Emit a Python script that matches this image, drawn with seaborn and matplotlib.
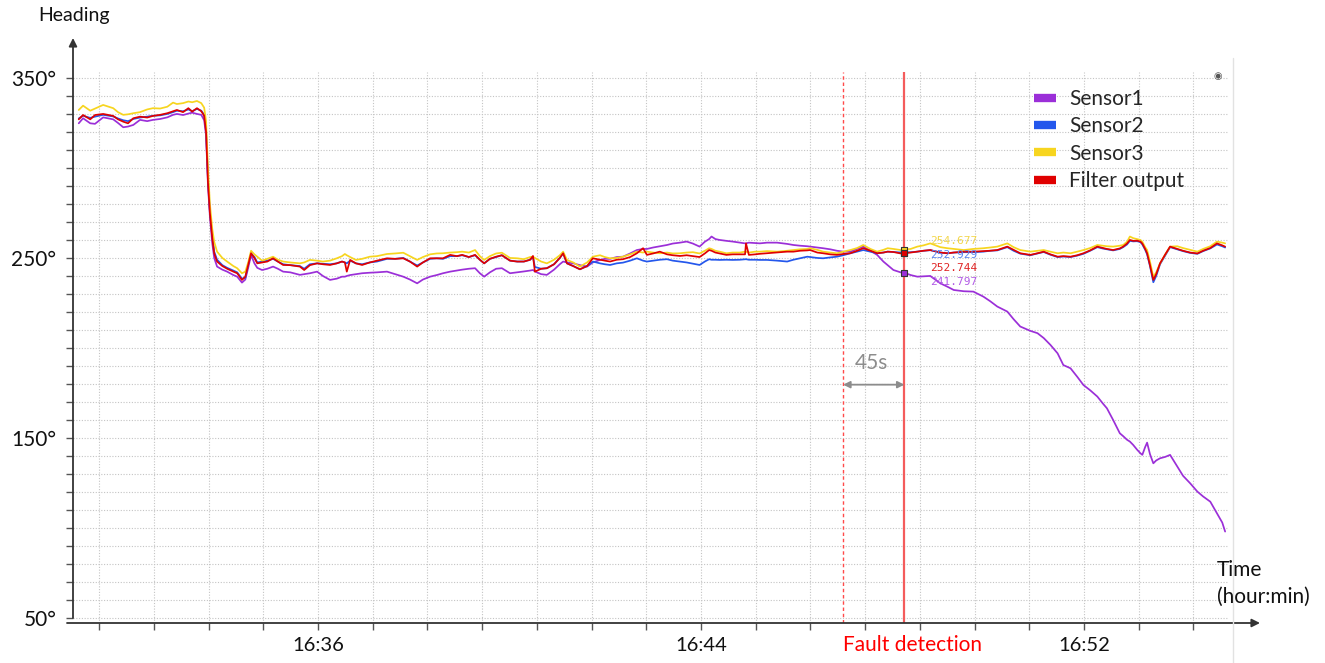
import numpy as np
import pandas as pd
import matplotlib
matplotlib.use("Agg")
import matplotlib.pyplot as plt
import matplotlib.transforms as mtransforms
from matplotlib.lines import Line2D
import seaborn as sns

# ---------------- data (minutes after 16:00, heading in degrees) ----------------
time_min = [
    31.00, 31.09, 31.24, 31.34, 31.51, 31.72, 31.82, 31.93, 32.03, 32.14,
    32.28, 32.43, 32.55, 32.70, 32.85, 32.97, 33.05, 33.18, 33.29, 33.37,
    33.47, 33.56, 33.62, 33.66, 33.70, 33.74, 33.79, 33.83, 33.89, 34.00,
    34.10, 34.23, 34.31, 34.41, 34.48, 34.54, 34.60, 34.67, 34.73, 34.83,
    34.94, 35.06, 35.16, 35.27, 35.42, 35.62, 35.71, 35.83, 35.98, 36.10,
    36.25, 36.39, 36.50, 36.56, 36.60, 36.67, 36.79, 36.92, 37.08, 37.23,
    37.44, 37.61, 37.78, 37.92, 38.07, 38.19, 38.34, 38.48, 38.61, 38.76,
    38.90, 39.01, 39.15, 39.28, 39.38, 39.47, 39.59, 39.72, 39.84, 40.01,
    40.16, 40.30, 40.43, 40.49, 40.53, 40.66, 40.78, 40.93, 41.05, 41.12,
    41.20, 41.33, 41.47, 41.62, 41.74, 41.89, 41.99, 42.10, 42.24, 42.37,
    42.52, 42.66, 42.79, 42.87, 43.00, 43.14, 43.29, 43.41, 43.56, 43.70,
    43.83, 43.97, 44.08, 44.17, 44.22, 44.30, 44.39, 44.53, 44.66, 44.81,
    44.92, 44.94, 45.00, 45.13, 45.23, 45.38, 45.59, 45.80, 45.93, 46.07,
    46.22, 46.28, 46.43, 46.55, 46.70, 46.84, 46.97, 47.12, 47.26, 47.39,
    47.54, 47.68, 47.81, 47.90, 48.02, 48.17, 48.25, 48.38, 48.52, 48.65,
    48.79, 49.00, 49.15, 49.28, 49.49, 49.69, 49.90, 50.04, 50.19, 50.40,
    50.53, 50.67, 50.88, 51.03, 51.16, 51.30, 51.45, 51.57, 51.72, 51.86,
    51.99, 52.13, 52.28, 52.40, 52.48, 52.61, 52.75, 52.82, 52.90, 52.96,
    53.03, 53.11, 53.18, 53.22, 53.28, 53.32, 53.38, 53.45, 53.51, 53.59,
    53.70, 53.80, 53.95, 54.07, 54.22, 54.37, 54.49, 54.64, 54.78, 54.89,
    54.95,
]

sensor1 = [
    324.8, 327.6, 324.8, 324.5, 328.1, 327.0, 325.0, 322.6, 323.0, 323.9,
    326.7, 326.0, 326.7, 327.2, 328.1, 329.5, 330.0, 329.4, 330.2, 330.7,
    330.0, 329.5, 326.5, 318.0, 290.0, 273.0, 258.0, 250.0, 245.2, 243.5,
    242.4, 240.5, 239.6, 236.3, 238.0, 244.5, 251.7, 247.0, 244.5, 243.3,
    244.0, 245.2, 244.0, 242.4, 242.0, 240.6, 241.0, 241.5, 242.4, 240.0,
    237.8, 238.5, 239.6, 239.6, 240.0, 240.5, 241.0, 241.5, 241.8, 242.0,
    242.4, 241.0, 239.6, 238.0, 235.9, 238.0, 239.6, 240.5, 241.5, 242.4,
    243.0, 243.5, 244.0, 244.3, 241.5, 239.6, 242.0, 244.0, 244.3, 241.5,
    242.0, 242.5, 243.0, 243.3, 242.5, 241.0, 240.6, 243.5, 246.5, 248.0,
    247.5, 247.0, 246.0, 245.2, 247.5, 248.9, 249.5, 249.5, 250.5, 250.7,
    252.5, 254.4, 255.0, 255.0, 255.8, 256.5, 257.2, 258.0, 258.5, 259.1,
    258.0, 256.3, 259.0, 260.5, 261.9, 260.5, 260.0, 259.5, 259.1, 258.5,
    258.1, 258.1, 258.5, 258.3, 258.1, 258.5, 258.5, 257.8, 257.2, 256.8,
    256.5, 256.3, 255.8, 255.4, 254.8, 254.0, 253.5, 253.5, 255.0, 256.3,
    254.0, 251.7, 248.0, 246.0, 243.3, 242.0, 241.8, 240.5, 239.6, 239.8,
    240.0, 235.9, 234.0, 232.2, 231.5, 231.3, 228.5, 226.0, 223.0, 220.2,
    216.0, 211.9, 209.5, 208.2, 205.5, 201.7, 197.0, 190.5, 188.7, 184.0,
    179.4, 176.5, 173.0, 169.0, 166.5, 160.0, 152.6, 151.0, 149.0, 148.0,
    146.1, 143.5, 141.5, 140.6, 145.0, 147.4, 141.0, 135.9, 137.5, 138.7,
    139.5, 140.6, 134.1, 129.0, 124.8, 120.2, 117.5, 114.6, 108.1, 103.0,
    98.0,
]

sensor2 = [
    327.5, 329.0, 327.8, 328.5, 329.5, 328.6, 327.5, 326.5, 326.0, 327.2,
    328.0, 328.5, 329.0, 329.2, 330.0, 331.0, 331.8, 331.5, 332.5, 331.5,
    332.8, 331.8, 329.5, 321.0, 294.0, 276.0, 262.0, 253.5, 249.0, 246.0,
    244.5, 243.0, 242.0, 238.5, 239.0, 246.5, 252.5, 250.5, 247.5, 248.0,
    248.5, 249.5, 248.0, 246.5, 246.0, 245.5, 244.0, 246.5, 247.0, 246.8,
    246.5, 247.0, 248.0, 247.5, 247.0, 248.5, 247.0, 246.5, 247.5, 248.0,
    249.5, 249.5, 250.0, 248.0, 245.8, 247.5, 249.5, 249.8, 249.5, 251.0,
    251.0, 251.5, 250.5, 251.5, 249.0, 247.0, 249.5, 250.5, 251.5, 248.5,
    248.0, 248.0, 249.0, 250.5, 245.0, 244.0, 244.3, 246.5, 250.0, 252.5,
    247.0, 245.5, 243.7, 245.5, 248.0, 247.0, 246.5, 246.1, 247.0, 247.4,
    248.5, 249.8, 248.5, 248.0, 248.5, 249.0, 249.3, 248.5, 248.0, 247.5,
    246.8, 246.1, 248.0, 249.3, 249.0, 249.0, 248.9, 249.0, 248.9, 249.0,
    249.3, 249.3, 249.0, 249.0, 248.9, 248.9, 248.5, 248.0, 249.0, 249.8,
    250.7, 250.5, 250.0, 249.8, 250.3, 250.7, 251.5, 252.6, 253.5, 254.4,
    253.5, 252.6, 253.0, 253.5, 253.3, 253.0, 252.9, 253.2, 253.5, 254.0,
    254.3, 253.0, 252.6, 253.0, 253.2, 253.2, 253.5, 254.0, 254.2, 256.0,
    254.0, 252.4, 251.5, 252.5, 253.3, 251.8, 250.5, 250.8, 250.5, 251.3,
    252.3, 254.0, 256.0, 255.2, 254.8, 254.2, 255.0, 256.0, 257.5, 259.5,
    259.2, 259.3, 258.8, 257.5, 254.5, 252.0, 245.5, 236.5, 240.0, 246.5,
    251.5, 256.0, 254.8, 253.8, 252.8, 252.3, 253.8, 255.3, 257.5, 256.5,
    255.8,
]

sensor3 = [
    332.2, 334.6, 331.8, 333.0, 335.0, 333.2, 331.0, 329.5, 329.8, 330.4,
    331.0, 332.5, 333.2, 333.0, 334.0, 336.3, 335.5, 336.0, 336.9, 336.5,
    337.2, 336.0, 333.5, 326.0, 300.0, 280.0, 266.0, 259.0, 253.5, 250.0,
    248.0, 245.5, 244.3, 241.5, 242.4, 247.5, 254.0, 252.0, 250.7, 248.5,
    249.5, 250.7, 249.0, 248.0, 247.5, 247.0, 247.5, 248.9, 248.5, 248.0,
    248.5, 249.8, 251.0, 252.2, 251.5, 250.5, 248.9, 249.5, 250.7, 251.0,
    252.2, 252.5, 252.9, 251.0, 248.9, 250.5, 252.0, 252.5, 252.6, 253.0,
    253.2, 253.5, 253.0, 254.4, 251.0, 248.9, 251.0, 252.5, 252.9, 250.0,
    249.8, 249.3, 250.5, 250.7, 250.0, 248.0, 247.0, 249.0, 251.5, 253.5,
    248.9, 247.5, 245.2, 247.5, 250.7, 251.5, 250.5, 249.8, 250.0, 250.7,
    252.0, 253.5, 253.0, 253.5, 253.0, 252.6, 253.0, 252.5, 252.6, 253.0,
    253.2, 252.5, 254.0, 255.4, 255.0, 254.0, 253.5, 252.6, 253.0, 253.0,
    253.5, 253.5, 253.0, 253.5, 253.5, 253.8, 253.5, 254.0, 254.4, 254.8,
    255.0, 255.4, 254.5, 253.5, 253.0, 252.6, 253.5, 254.4, 255.5, 257.2,
    255.0, 253.5, 254.5, 255.4, 255.0, 254.4, 254.7, 255.0, 256.3, 257.0,
    258.1, 256.0, 255.4, 255.0, 254.4, 255.0, 255.4, 255.8, 256.3, 258.1,
    256.0, 254.4, 253.5, 254.0, 254.4, 253.5, 252.6, 253.0, 252.6, 253.5,
    254.4, 255.5, 257.2, 256.8, 256.5, 256.3, 256.8, 257.2, 259.0, 261.9,
    261.0, 260.5, 260.0, 259.0, 256.0, 254.4, 248.0, 239.6, 242.0, 247.0,
    252.0, 256.3, 256.5, 255.5, 254.5, 253.5, 255.0, 256.5, 259.1, 258.5,
    258.1,
]

filter_out = [
    327.0, 329.4, 327.0, 329.4, 330.0, 328.9, 327.0, 325.7, 324.8, 327.6,
    328.5, 328.0, 328.9, 329.5, 330.4, 331.5, 332.2, 331.0, 333.2, 331.3,
    333.2, 331.5, 329.0, 320.0, 292.0, 275.0, 261.0, 252.5, 248.0, 245.5,
    244.0, 242.4, 241.5, 237.8, 239.6, 246.0, 252.6, 250.0, 247.0, 247.5,
    248.0, 249.8, 248.0, 246.1, 246.0, 245.2, 243.3, 246.0, 247.0, 246.5,
    246.1, 247.0, 248.0, 247.5, 242.4, 248.9, 247.0, 246.1, 247.5, 248.5,
    249.8, 249.5, 249.8, 248.0, 245.2, 247.5, 249.8, 249.8, 249.8, 251.7,
    251.0, 251.7, 250.5, 251.7, 249.0, 247.0, 249.5, 250.7, 251.5, 248.5,
    248.0, 248.0, 249.0, 251.1, 242.4, 244.0, 244.3, 246.5, 250.0, 252.6,
    247.0, 245.5, 243.7, 245.5, 249.8, 249.0, 248.5, 248.0, 249.0, 249.3,
    250.5, 252.6, 255.4, 251.7, 252.5, 253.5, 252.0, 251.5, 251.1, 251.5,
    251.0, 250.5, 252.5, 254.4, 254.0, 253.0, 252.5, 251.7, 252.0, 252.0,
    252.0, 258.1, 251.7, 252.0, 252.3, 252.6, 253.0, 253.5, 253.5, 254.0,
    254.2, 254.4, 253.0, 252.6, 252.0, 251.7, 252.2, 252.6, 254.0, 255.4,
    254.0, 252.6, 253.0, 253.5, 253.3, 252.5, 252.7, 253.0, 253.5, 254.0,
    254.4, 253.0, 252.6, 253.0, 253.5, 253.5, 253.8, 254.0, 254.4, 256.3,
    254.5, 252.6, 251.7, 252.6, 253.5, 252.0, 250.7, 251.0, 250.7, 251.5,
    252.6, 254.2, 256.3, 255.5, 255.0, 254.4, 255.3, 256.3, 258.0, 260.0,
    259.5, 259.6, 259.1, 258.0, 255.0, 252.6, 246.0, 237.8, 241.0, 247.0,
    252.0, 256.3, 255.0, 254.0, 253.0, 252.5, 254.0, 255.5, 258.1, 257.0,
    256.3,
]

series_names = ["Sensor1", "Sensor2", "Sensor3", "Filter output"]
series_colors = ["#9B2FD8", "#2457EC", "#F7D51F", "#E00000"]

y_major = [50, 150, 250, 350]
x_label_times = [36, 44, 52]
x_label_texts = ["16:36", "16:44", "16:52"]

fault_start = 46.97      # dashed line
fault_detect = 48.25     # solid line
# readout values at detection time (Sensor3, Sensor2, Filter output, Sensor1)
readout_values = [254.677, 252.929, 252.744, 241.797]
readout_series = ["Sensor3", "Sensor2", "Filter output", "Sensor1"]
readout_colors = ["#F2D64B", "#5A86F0", "#E02424", "#B25BE6"]

# ---------------- style ----------------
sns.set_theme(style="white")
plt.rcParams["font.family"] = ["Lato", "DejaVu Sans"]

W, H = 1325, 663
fig = plt.figure(figsize=(W / 100, H / 100), dpi=100)
ax_left, ax_right, ax_top, ax_bottom = 73, 1228, 72, 623
ax = fig.add_axes([ax_left / W, 1 - ax_bottom / H, (ax_right - ax_left) / W, (ax_bottom - ax_top) / H])

ymin, ymax = 47.2, 353.3
xmin, xmax = 30.88, 55.01
ax.set_xlim(xmin, xmax)
ax.set_ylim(ymin, ymax)

df = pd.DataFrame({
    "time": time_min,
    "Sensor1": sensor1,
    "Sensor2": sensor2,
    "Sensor3": sensor3,
    "Filter output": filter_out,
})
long = df.melt(id_vars="time", var_name="series", value_name="heading")
palette = dict(zip(series_names, series_colors))
sns.lineplot(data=long, x="time", y="heading", hue="series", hue_order=series_names,
             palette=palette, estimator=None, sort=False, linewidth=1.25, ax=ax,
             legend=False, zorder=3)

# ---------------- axes / ticks / grid ----------------
for s in ax.spines.values():
    s.set_visible(False)

step = 8 / 7
xticks = [36 + k * step for k in range(-4, 17)]
ax.set_xticks(xticks)
labels = []
for xt in xticks:
    lab = ""
    for lt, txt in zip(x_label_times, x_label_texts):
        if abs(xt - lt) < 1e-6:
            lab = txt
    labels.append(lab)
ax.set_xticklabels(labels)

ax.set_yticks(y_major)
ax.set_yticklabels([f"{v}°" for v in y_major])
ax.set_yticks(list(range(50, 351, 10)), minor=True)

ax.tick_params(axis="x", which="both", direction="out", length=5, width=1,
               color="#555555", labelsize=14.5, pad=5, labelcolor="#111111", bottom=True)
ax.tick_params(axis="y", which="both", direction="out", length=5, width=1,
               color="#555555", labelsize=15, pad=7, labelcolor="#111111", left=True)

ax.grid(True, axis="x", which="major", color="#C4C4C4", linestyle=(0, (1, 1.5)), linewidth=0.8)
ax.grid(True, axis="y", which="minor", color="#C4C4C4", linestyle=(0, (1, 1.5)), linewidth=0.8)
ax.grid(True, axis="y", which="major", color="#C4C4C4", linestyle=(0, (1, 1.5)), linewidth=0.8)
ax.set_axisbelow(True)
ax.set_xlabel("")
ax.set_ylabel("")

# axis arrows
y50 = (50 - ymin) / (ymax - ymin)
ax.annotate("", xy=(0, 1 + (ax_top - 38) / (ax_bottom - ax_top)), xycoords="axes fraction",
            xytext=(0, y50), textcoords="axes fraction",
            arrowprops=dict(arrowstyle="-|>", color="#333333", lw=1.3, mutation_scale=12,
                            shrinkA=0, shrinkB=0), annotation_clip=False)
ax.annotate("", xy=((1260 - ax_left) / (ax_right - ax_left), 0), xycoords="axes fraction",
            xytext=((67 - ax_left) / (ax_right - ax_left), 0), textcoords="axes fraction",
            arrowprops=dict(arrowstyle="-|>", color="#333333", lw=1.3, mutation_scale=12,
                            shrinkA=0, shrinkB=0), annotation_clip=False)

# ---------------- fault markers ----------------
ax.axvline(fault_start, color="#FF4A4A", lw=1.0, ls=(0, (2.5, 2)), zorder=2)
ax.axvline(fault_detect, color="#F45C5C", lw=1.6, zorder=2)

for val, name in zip(readout_values, readout_series):
    ax.scatter([fault_detect], [val], marker="s", s=16, color=palette[name],
               edgecolors="#333333", linewidths=0.8, zorder=6)

label_y0, label_dy = 259.4, 7.6
for i, (val, col) in enumerate(zip(readout_values, readout_colors)):
    ax.text(48.79, label_y0 - i * label_dy, f"{val:.3f}", color=col, fontsize=8,
            family="DejaVu Sans Mono", ha="left", va="center", zorder=7)

# 45 s arrow
ax.annotate("", xy=(fault_start, 179.6), xytext=(fault_detect, 179.6),
            arrowprops=dict(arrowstyle="<|-|>", color="#8C8C8C", lw=1.3, mutation_scale=10,
                            shrinkA=0, shrinkB=0), zorder=7)
ax.text(47.57, 191.8, "45s", color="#8C8C8C", fontsize=15, ha="center", va="center")

# Fault detection label under the axis
trans = mtransforms.blended_transform_factory(ax.transData, ax.transAxes)
ax.text(48.41, -(645 - ax_bottom) / (ax_bottom - ax_top), "Fault detection", color="#FF0000",
        fontsize=15, ha="center", va="center", transform=trans, clip_on=False)

# ---------------- legend ----------------
handles = [Line2D([0], [0], color=c, lw=6, solid_capstyle="butt") for c in series_colors]
ax.legend(handles, series_names, loc="upper left", bbox_to_anchor=(1034 / W, 1 - 89 / H),
          bbox_transform=fig.transFigure, frameon=False, fontsize=15, handlelength=1.05,
          handletextpad=0.65, labelspacing=0.35, borderpad=0, borderaxespad=0)

# ---------------- texts ----------------
fig.text(38 / W, 1 - 15 / H, "Heading", fontsize=14, ha="left", va="center", color="#111111")
fig.text(1217 / W, 1 - 570 / H, "Time", fontsize=15, ha="left", va="center", color="#111111")
fig.text(1217 / W, 1 - 597 / H, "(hour:min)", fontsize=15, ha="left", va="center", color="#111111")
fig.text(1218 / W, 1 - 76 / H, "◉", fontsize=7, ha="center", va="center", color="#555555",
         family="DejaVu Sans")
fig.add_artist(Line2D([1233 / W, 1233 / W], [0, 1 - 58 / H], color="#E2E2E2", lw=1))

fig.savefig("out.png", dpi=100)
